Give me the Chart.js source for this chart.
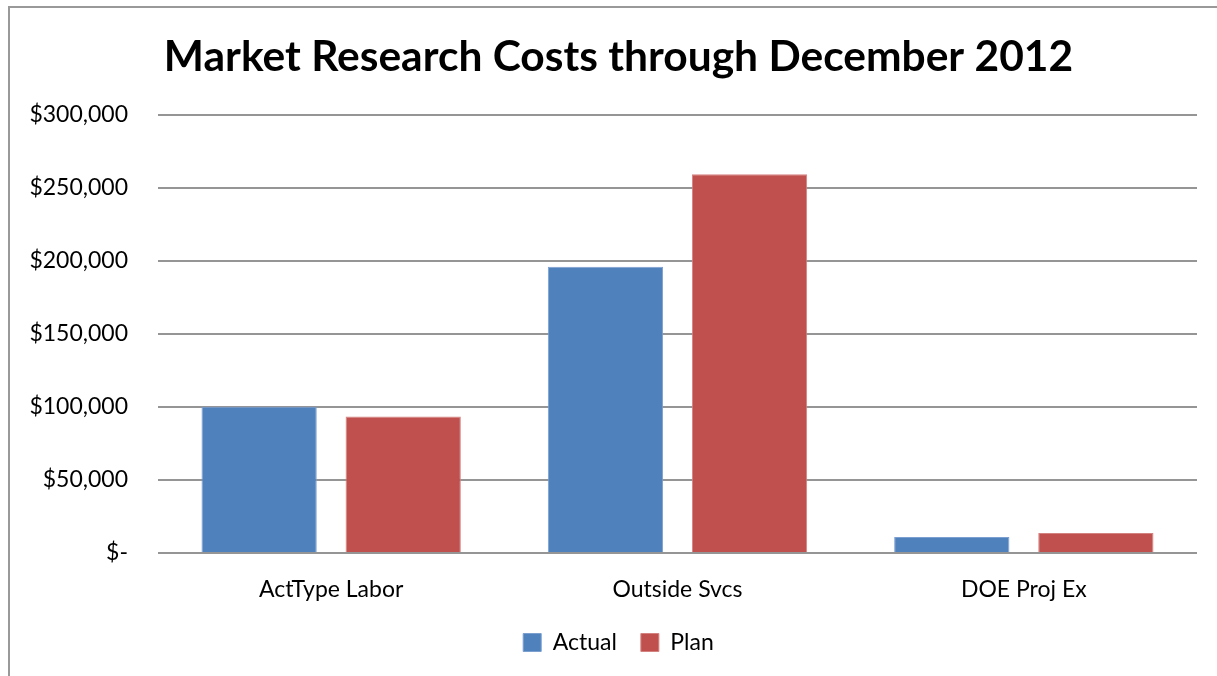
<!DOCTYPE html>
<html>
<head>
<meta charset="utf-8">
<title>Market Research Costs</title>
<script src="https://cdn.jsdelivr.net/npm/chart.js@4/dist/chart.umd.min.js"></script>
<style>
    html, body { margin: 0; padding: 0; background: #fff; }
    #wrap { position: relative; width: 1217px; height: 676px; }
    #frame { position: absolute; left: 8px; top: 6px; right: 0; bottom: 0; border-top: 2px solid #999; border-left: 2px solid #999; }
    canvas { position: absolute; left: 0; top: 0; }
</style>
</head>
<body>
<div id="wrap">
    <div id="frame"></div>
    <canvas id="costChart" width="1217" height="676"></canvas>
</div>
<script>
var categories = ['ActType Labor', 'Outside Svcs', 'DOE Proj Ex'];
var actualCosts = [100200, 196100, 10900];
var planCosts = [93500, 259400, 13700];
var yTicks = [0, 50000, 100000, 150000, 200000, 250000, 300000];

var FONT = 'Lato, "Open Sans", sans-serif';

function money(v) {
    if (v === 0) return '$-';
    return '$' + Number(v).toLocaleString('en-US');
}

var ctx = document.getElementById('costChart').getContext('2d');
var costChart = new Chart(ctx, {
    type: 'bar',
    data: {
        labels: categories,
        datasets: [
            { label: 'Actual', data: actualCosts, backgroundColor: '#4f81bd', borderColor: '#7b9fcf', borderWidth: 1 },
            { label: 'Plan', data: planCosts, backgroundColor: '#c0504d', borderColor: '#d48280', borderWidth: 1 }
        ]
    },
    options: {
        responsive: false,
        animation: false,
        devicePixelRatio: 1,
        categoryPercentage: 0.832,
        barPercentage: 0.8,
        // left pad + empty right axis keep the title/legend centred a bit right of the canvas
        layout: { padding: { left: 20, right: 0, top: 0, bottom: 12 } },
        plugins: {
            title: {
                display: true,
                text: 'Market Research Costs through December 2012',
                color: '#000',
                font: { family: FONT, size: 42.5, weight: 'bold' },
                padding: { top: 31.5, bottom: 32.5 }
            },
            legend: {
                position: 'bottom',
                labels: {
                    color: '#000',
                    font: { family: FONT, size: 23 },
                    boxWidth: 18,
                    boxHeight: 18,
                    padding: 24
                }
            },
            tooltip: { enabled: false }
        },
        scales: {
            x: {
                afterFit: function(scale) { scale.height = 54; },
                grid: { display: false, drawTicks: false },
                border: { display: false },
                ticks: { color: '#000', font: { family: FONT, size: 23 }, padding: 23 }
            },
            y: {
                min: 0,
                max: 300000,
                afterFit: function(scale) { scale.width = 138; },
                afterBuildTicks: function(scale) {
                    scale.ticks = yTicks.map(function(v) { return { value: v }; });
                },
                grid: { color: '#959595', lineWidth: 2, drawTicks: false },
                border: { display: false },
                ticks: {
                    color: '#000',
                    font: { family: FONT, size: 23 },
                    padding: 30,
                    callback: function(v) { return money(v); }
                }
            },
            gutter: {
                position: 'right',
                afterFit: function(scale) { scale.width = 20; },
                grid: { display: false, drawTicks: false },
                border: { display: false },
                ticks: { display: false }
            }
        }
    }
});
</script>
</body>
</html>
